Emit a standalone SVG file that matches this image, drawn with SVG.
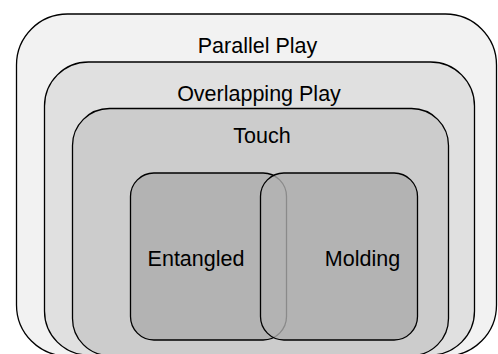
<svg xmlns="http://www.w3.org/2000/svg" width="498" height="354" viewBox="0 0 498 354">
  <style>
    .box { stroke: #000000; stroke-width: 1.3; }
    .lbl { font-family: "Liberation Sans", Arial, Helvetica, sans-serif; font-size: 21.5px; fill: #000000; text-anchor: middle; }
  </style>
  <defs>
    <clipPath id="moldingClip">
      <rect x="260.5" y="173" width="157" height="167" rx="23.4" ry="23.4"/>
    </clipPath>
  </defs>
  <rect x="0" y="0" width="498" height="354" fill="#ffffff"/>
  <g id="parallel-play">
    <rect class="box" x="16.5" y="14" width="480" height="342" rx="51" ry="51" fill="#f2f2f2"/>
    <text class="lbl" x="257.5" y="53">Parallel Play</text>
  </g>
  <g id="overlapping-play">
    <rect class="box" x="44.5" y="62" width="430" height="293" rx="44" ry="44" fill="#e0e0e0"/>
    <text class="lbl" x="259" y="100.5">Overlapping Play</text>
  </g>
  <g id="touch">
    <rect class="box" x="72.5" y="108.5" width="376" height="247" rx="37" ry="37" fill="#cccccc"/>
    <text class="lbl" x="262" y="143">Touch</text>
  </g>
  <g id="entangled">
    <rect class="box" x="130.5" y="173" width="156" height="167" rx="23.4" ry="23.4" fill="#b3b3b3"/>
    <text class="lbl" x="196" y="266">Entangled</text>
  </g>
  <g id="molding">
    <rect x="260.5" y="173" width="157" height="167" rx="23.4" ry="23.4" fill="#b3b3b3" stroke="none"/>
    <rect x="130.5" y="173" width="156" height="167" rx="23.4" ry="23.4" fill="none" stroke="#8a8a8a" stroke-width="1.3" clip-path="url(#moldingClip)"/>
    <rect class="box" x="260.5" y="173" width="157" height="167" rx="23.4" ry="23.4" fill="none"/>
    <text class="lbl" x="362.5" y="266">Molding</text>
  </g>
  <g id="connectors"/>
</svg>
